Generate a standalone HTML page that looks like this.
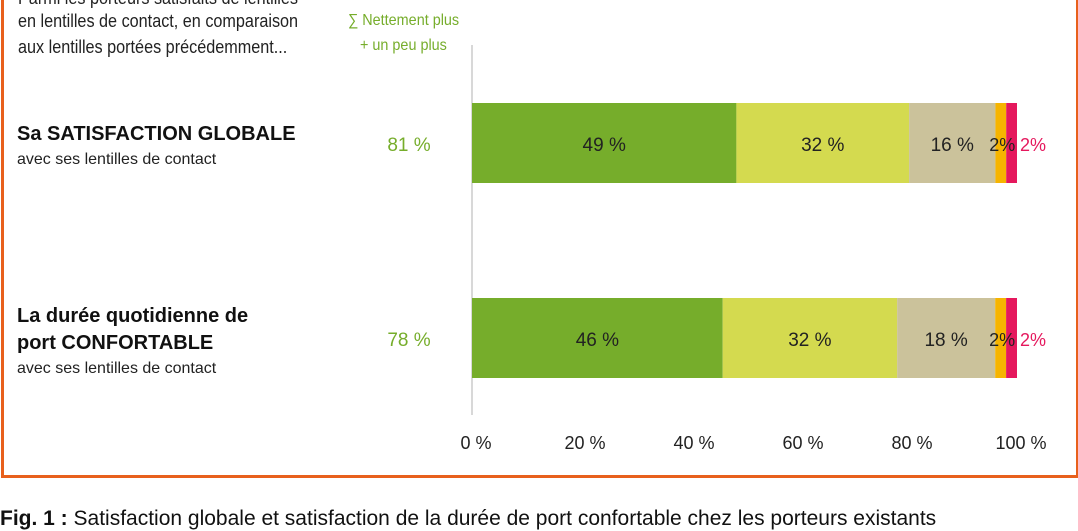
<!DOCTYPE html>
<html><head><meta charset="utf-8"><style>
body{margin:0;width:1078px;height:516px;overflow:hidden;background:#fff;font-family:"Liberation Sans",sans-serif;position:relative}
.t{position:absolute;white-space:nowrap}
.hd{font-family:"Liberation Sans Narrow","Liberation Sans",sans-serif;font-size:18px;color:#222;transform:scaleX(.9);transform-origin:left}
</style></head><body>
<div style="position:absolute;left:1px;top:-10px;width:1072px;height:485px;border:3px solid #e8601c;border-top:none"></div>
<div class="t hd" style="left:18px;top:-12px">Parmi les porteurs satisfaits de lentilles</div>
<div class="t hd" style="left:18px;top:11px">en lentilles de contact, en comparaison</div>
<div class="t hd" style="left:18px;top:37px">aux lentilles portées précédemment...</div>
<div class="t" style="left:348px;top:12px;font-size:16px;color:#76ad2b;transform:scaleX(.9);transform-origin:left">∑ Nettement plus</div>
<div class="t" style="left:360px;top:37px;font-size:16px;color:#76ad2b;transform:scaleX(.9);transform-origin:left">+ un peu plus</div>
<div class="t" style="left:17px;top:123px;font-size:20px;font-weight:bold;color:#111">Sa SATISFACTION GLOBALE</div>
<div class="t" style="left:17px;top:151px;font-size:16px;color:#222">avec ses lentilles de contact</div>
<div class="t" style="left:17px;top:305px;font-size:20px;font-weight:bold;color:#111">La durée quotidienne de</div>
<div class="t" style="left:17px;top:332px;font-size:20px;font-weight:bold;color:#111">port CONFORTABLE</div>
<div class="t" style="left:17px;top:360px;font-size:16px;color:#222">avec ses lentilles de contact</div>
<div class="t" style="left:0;top:507px;font-size:21px;color:#111"><b>Fig. 1 :</b> Satisfaction globale et satisfaction de la durée de port confortable chez les porteurs existants</div>
<svg id="c" width="1078" height="516" style="position:absolute;left:0;top:0"></svg>
<script>
const categories=["Sa SATISFACTION GLOBALE","La durée quotidienne de port CONFORTABLE"];
const totals=[81,78];
const s1=[49,46];
const s2=[32,32];
const s3=[16,18];
const s4=[2,2];
const s5=[2,2];
const ticks=[0,20,40,60,80,100];
const tickLabels=["0 %","20 %","40 %","60 %","80 %","100 %"];
const colors=["#76ad2b","#d4da4f","#cbc29b","#f6b400","#e5185d"];
const NS="http://www.w3.org/2000/svg";
const svg=document.getElementById('c');
const x0=472,W=545;
const x=v=>x0+v/100*W;
const rowY=[103,298],bh=80;
function mk(t,a){const e=document.createElementNS(NS,t);for(const k in a)e.setAttribute(k,a[k]);svg.appendChild(e);return e;}
const ax=mk('line',{x1:x0,y1:45,x2:x0,y2:415,stroke:'#ccc','stroke-width':1.5});


ticks.forEach((t,i)=>{const e=mk('text',{x:x(t)+4,y:449,'text-anchor':'middle','font-size':18,fill:'#222','font-family':'Liberation Sans, sans-serif'});e.textContent=tickLabels[i];

});
const series=[s1,s2,s3,s4,s5];
categories.forEach((c,r)=>{
 const sum=series.reduce((a,s)=>a+s[r],0);
 let acc=0;const y=rowY[r];
 series.forEach((s,k)=>{
  const xa=x(acc/sum*100),xb=x((acc+s[r])/sum*100);
  const b=mk('rect',{x:xa,y:y,width:xb-xa,height:bh,fill:colors[k]});
  
  
  if(k<3){const t=mk('text',{x:(xa+xb)/2,y:y+48,'text-anchor':'middle','font-size':19,fill:'#222','font-family':'Liberation Sans, sans-serif'});t.textContent=s[r]+' %';
  
  }
  acc+=s[r];
 });
 const a=series[3][r],bb=series[4][r];
 const t4=mk('text',{x:x((sum-bb)/sum*100)-4,y:y+48,'text-anchor':'middle','font-size':18,fill:'#222','font-family':'Liberation Sans, sans-serif'});t4.textContent=a+'%';
 
 
 const t5=mk('text',{x:x(100)+3,y:y+48,'font-size':18,fill:'#e5185d','font-family':'Liberation Sans, sans-serif'});t5.textContent=bb+'%';
 
 
 const tt=mk('text',{x:409,y:y+48,'text-anchor':'middle','font-size':19,fill:'#76ad2b','font-family':'Liberation Sans, sans-serif'});tt.textContent=totals[r]+' %';
 
 
});
</script>
</body></html>
